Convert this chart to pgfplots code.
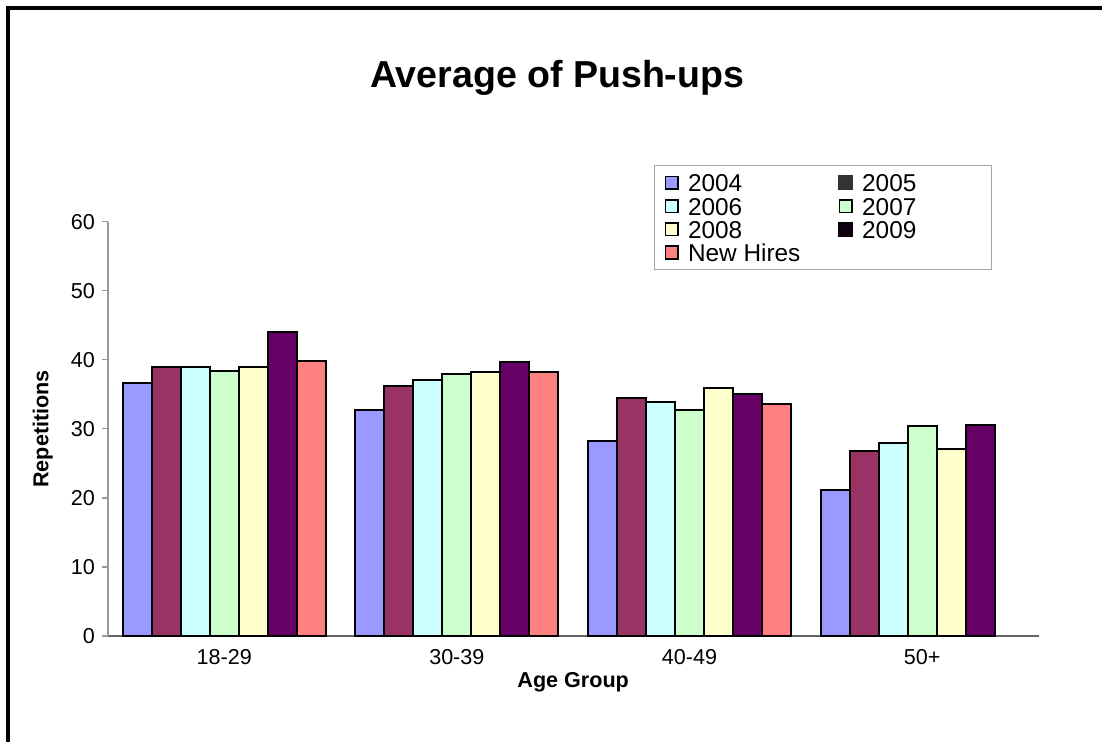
\documentclass[border=0pt]{standalone}
\usepackage{pgfplots}
\pgfplotsset{compat=1.18}
\usepackage{fontspec}
\setmainfont{Liberation Sans}
\definecolor{c04}{HTML}{9999FF}
\definecolor{c05}{HTML}{993366}
\definecolor{c06}{HTML}{CCFFFF}
\definecolor{c07}{HTML}{CCFFCC}
\definecolor{c08}{HTML}{FFFFCC}
\definecolor{c09}{HTML}{660066}
\definecolor{cnh}{HTML}{FF8080}
\begin{document}
\begin{tikzpicture}
\path[fill=white] (0pt,0pt) rectangle (552pt,371.5pt);
\draw[line width=1.6pt] (4pt,0pt) -- (4pt,367.5pt) -- (552pt,367.5pt);
\node[font=\fontsize{18.8}{20}\selectfont\bfseries] at (279pt,332.5pt) {Average of Push-ups};
\begin{axis}[
  at={(54pt,53pt)}, anchor=south west,
  scale only axis, width=466pt, height=207.5pt,
  ybar=0pt, bar width=0.1245,
  xmin=-0.5, xmax=3.5, ymin=0, ymax=60,
  xtick={0,1,2,3}, xticklabels={18-29,30-39,40-49,50+},
  ytick={0,10,...,60},
  axis x line=bottom, axis y line=left,
  axis line style={draw=gray!80, line width=0.7pt, -},
  x axis line style={draw=gray!80!black},
  tick align=outside,
  xtick style={draw=none},
  ytick style={draw=gray!80, line width=0.6pt},
  major tick length=3pt,
  tick label style={font=\fontsize{10.8}{12}\selectfont},
  /pgf/number format/assume math mode=true,
  xticklabel style={yshift=0pt},
  xlabel={\bfseries Age Group},
  ylabel={\bfseries Repetitions},
  label style={font=\fontsize{10.8}{12}\selectfont},
  xlabel style={at={(axis description cs:0.5,-0.1108)}, anchor=center},
  ylabel style={at={(axis description cs:-0.070,0.5)}, anchor=center},
  legend columns=2,
  legend style={at={(axis description cs:0.5869,1.1373)}, anchor=north west,
    draw=gray!70, line width=0.5pt, font=\fontsize{12.2}{12}\selectfont,
    inner xsep=5pt, inner ysep=3pt, row sep=0pt,
    nodes={inner ysep=1.3pt, text height=9pt, text depth=0pt},
    /tikz/every odd column/.append style={column sep=2.5pt},
    /tikz/every even column/.append style={column sep=17pt}},
  legend cell align=left,
  legend image code/.code={\draw[#1, draw=black, line width=0.9pt] (0pt,-3.2pt) rectangle (6.4pt,3.2pt);},
  every axis plot/.append style={draw=black, line width=1pt},
]
\addplot[fill=c04] coordinates {(0,36.7) (1,32.7) (2,28.2) (3,21.1)};
\addplot[fill=c05, legend image code/.code={\fill[black!80] (0pt,-3.2pt) rectangle (6.4pt,3.2pt);}] coordinates {(0,38.9) (1,36.2) (2,34.5) (3,26.8)};
\addplot[fill=c06] coordinates {(0,38.9) (1,37.1) (2,33.9) (3,27.9)};
\addplot[fill=c07] coordinates {(0,38.4) (1,38.0) (2,32.8) (3,30.4)};
\addplot[fill=c08] coordinates {(0,39.0) (1,38.2) (2,35.9) (3,27.1)};
\addplot[fill=c09, legend image code/.code={\fill[black!85!c09] (0pt,-3.2pt) rectangle (6.4pt,3.2pt);}] coordinates {(0,44.1) (1,39.7) (2,35.1) (3,30.5)};
\addplot[fill=cnh] coordinates {(0,39.9) (1,38.3) (2,33.6)};
\legend{2004,\makebox[57.5pt][l]{2005},2006,\makebox[57.5pt][l]{2007},2008,\makebox[57.5pt][l]{2009},New Hires}
\end{axis}
\end{tikzpicture}
\end{document}
